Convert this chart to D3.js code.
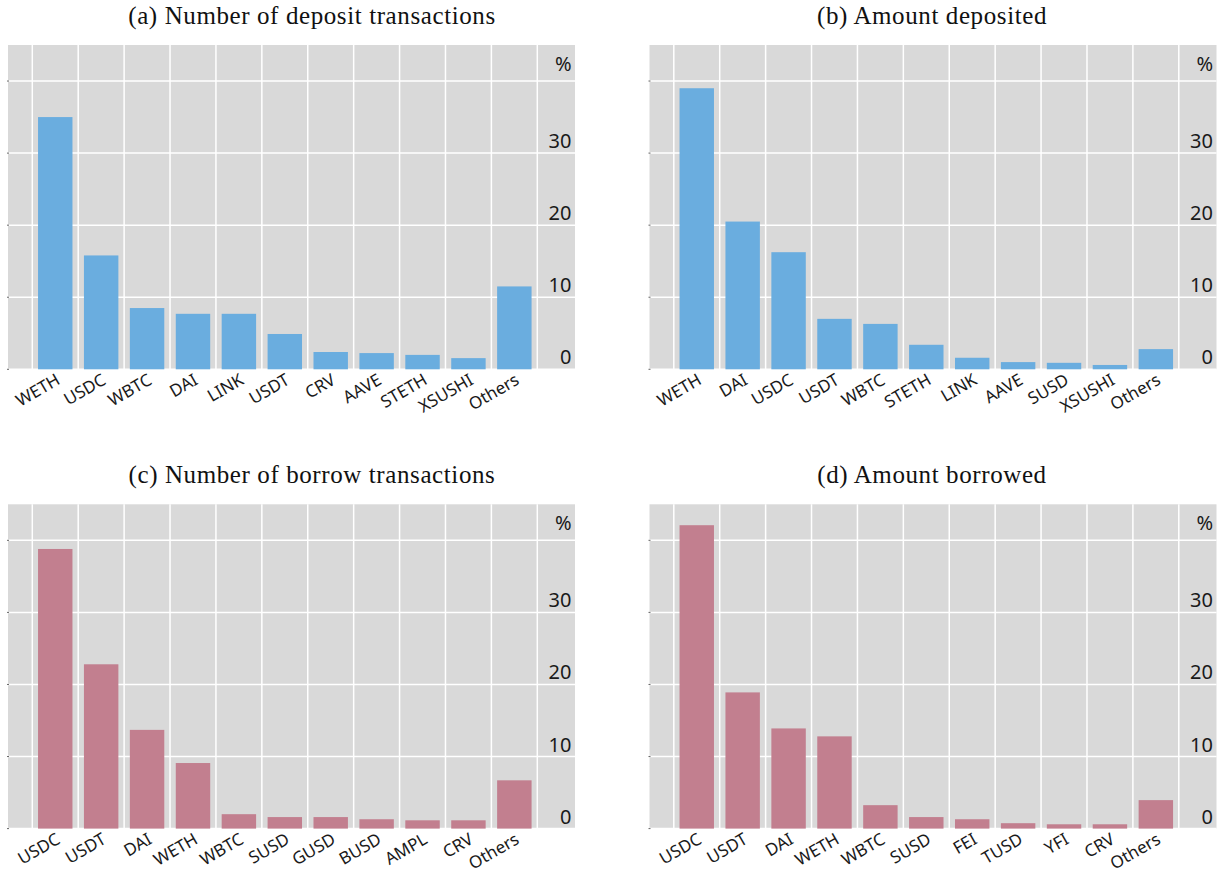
<!DOCTYPE html>
<html>
<head>
<meta charset="utf-8">
<script src="https://cdn.jsdelivr.net/npm/d3@7"></script>
<style>
  html, body { margin: 0; padding: 0; background: #ffffff; }
  svg { display: block; }
</style>
</head>
<body>
<svg id="chart" width="1220" height="873"></svg>
<script>
// ---- data ----
const titles = [
  "(a) Number of deposit transactions",
  "(b) Amount deposited",
  "(c) Number of borrow transactions",
  "(d) Amount borrowed"
];
const catsA = ["WETH","USDC","WBTC","DAI","LINK","USDT","CRV","AAVE","STETH","XSUSHI","Others"];
const valsA = [35.0, 15.8, 8.5, 7.7, 7.7, 4.9, 2.4, 2.25, 2.0, 1.55, 11.5];
const catsB = ["WETH","DAI","USDC","USDT","WBTC","STETH","LINK","AAVE","SUSD","XSUSHI","Others"];
const valsB = [39.0, 20.5, 16.25, 7.0, 6.3, 3.4, 1.6, 1.0, 0.9, 0.6, 2.8];
const catsC = ["USDC","USDT","DAI","WETH","WBTC","SUSD","GUSD","BUSD","AMPL","CRV","Others"];
const valsC = [38.8, 22.8, 13.7, 9.1, 2.0, 1.6, 1.6, 1.3, 1.15, 1.15, 6.7];
const catsD = ["USDC","USDT","DAI","WETH","WBTC","SUSD","FEI","TUSD","YFI","CRV","Others"];
const valsD = [42.1, 18.9, 13.9, 12.8, 3.25, 1.6, 1.3, 0.75, 0.6, 0.6, 3.95];
const yTickValues = [0, 10, 20, 30];
const yGridValues = [0, 10, 20, 30, 40];
const yMax = 45;
const unitLabel = "%";

const panels = [
  { title: titles[0], cats: catsA, vals: valsA, color: "#6aaddf", col: 0, row: 0 },
  { title: titles[1], cats: catsB, vals: valsB, color: "#6aaddf", col: 1, row: 0 },
  { title: titles[2], cats: catsC, vals: valsC, color: "#c27f8f", col: 0, row: 1 },
  { title: titles[3], cats: catsD, vals: valsD, color: "#c27f8f", col: 1, row: 1 }
];

// ---- layout ----
const svg = d3.select("#chart");
const lefts = [8, 649.5];
const tops = [45, 504.3];
const W = 567, H = 324.3;
const titleCenters = [312, 932];
const sans = "'Noto Sans', 'Open Sans', sans-serif";

panels.forEach(p => {
  const g = svg.append("g")
    .attr("transform", `translate(${lefts[p.col]},${tops[p.row]})`);

  const x = d3.scaleBand().domain(p.cats).range([24.3, 529.3])
    .paddingInner(0.25).paddingOuter(0.125);
  const y = d3.scaleLinear().domain([0, yMax]).range([H, 0]);

  // background
  g.append("rect").attr("x", 0).attr("y", 0).attr("width", W).attr("height", H)
    .attr("fill", "#d9d9d9");

  // horizontal grid
  g.selectAll("line.hg").data(yGridValues).join("line")
    .attr("class", "hg")
    .attr("x1", 0).attr("x2", W)
    .attr("y1", d => y(d)).attr("y2", d => y(d))
    .attr("stroke", "#ffffff").attr("stroke-width", 1.5);

  // vertical grid at band boundaries
  const step = x.step();
  const bounds = p.cats.map(c => x(c) - step * 0.125).concat([x.range()[1]]);
  g.selectAll("line.vg").data(bounds).join("line")
    .attr("class", "vg")
    .attr("x1", d => d).attr("x2", d => d)
    .attr("y1", 0).attr("y2", H)
    .attr("stroke", "#ffffff").attr("stroke-width", 1.5);

  // small left ticks
  g.selectAll("line.lt").data(yGridValues).join("line")
    .attr("class", "lt")
    .attr("x1", -1).attr("x2", 1)
    .attr("y1", d => y(d)).attr("y2", d => y(d))
    .attr("stroke", "#666").attr("stroke-width", 1);

  // bars
  g.selectAll("rect.bar").data(p.cats.map((c, i) => ({ c, v: p.vals[i] }))).join("rect")
    .attr("class", "bar")
    .attr("x", d => x(d.c))
    .attr("width", x.bandwidth())
    .attr("y", d => y(d.v))
    .attr("height", d => y(0) - y(d.v))
    .attr("fill", p.color);

  // y tick labels (inside, right)
  g.selectAll("text.yt").data(yTickValues).join("text")
    .attr("class", "yt")
    .attr("x", W - 3.5)
    .attr("y", d => y(d) - 5)
    .attr("text-anchor", "end")
    .attr("font-family", sans)
    .attr("font-size", 20)
    .attr("fill", "#1a1a1a")
    .text(d => d);

  g.append("text")
    .attr("x", W - 3.5)
    .attr("y", y(40) - 10)
    .attr("text-anchor", "end")
    .attr("font-family", sans)
    .attr("font-size", 20)
    .attr("fill", "#1a1a1a")
    .text(unitLabel);

  // x labels rotated
  g.selectAll("text.xl").data(p.cats).join("text")
    .attr("class", "xl")
    .attr("transform", d => `translate(${x(d) + x.bandwidth() / 2 + 6},${H + 14}) rotate(-30)`)
    .attr("text-anchor", "end")
    .attr("font-family", sans)
    .attr("font-size", 17)
    .attr("fill", "#1a1a1a")
    .text(d => d);

  // title
  svg.append("text")
    .attr("x", titleCenters[p.col])
    .attr("y", tops[p.row] - 21)
    .attr("text-anchor", "middle")
    .attr("font-family", "'Liberation Serif', 'DejaVu Serif', serif")
    .attr("font-size", 25)
    .attr("letter-spacing", 0.6)
    .attr("fill", "#111")
    .text(p.title);
});
</script>
</body>
</html>
